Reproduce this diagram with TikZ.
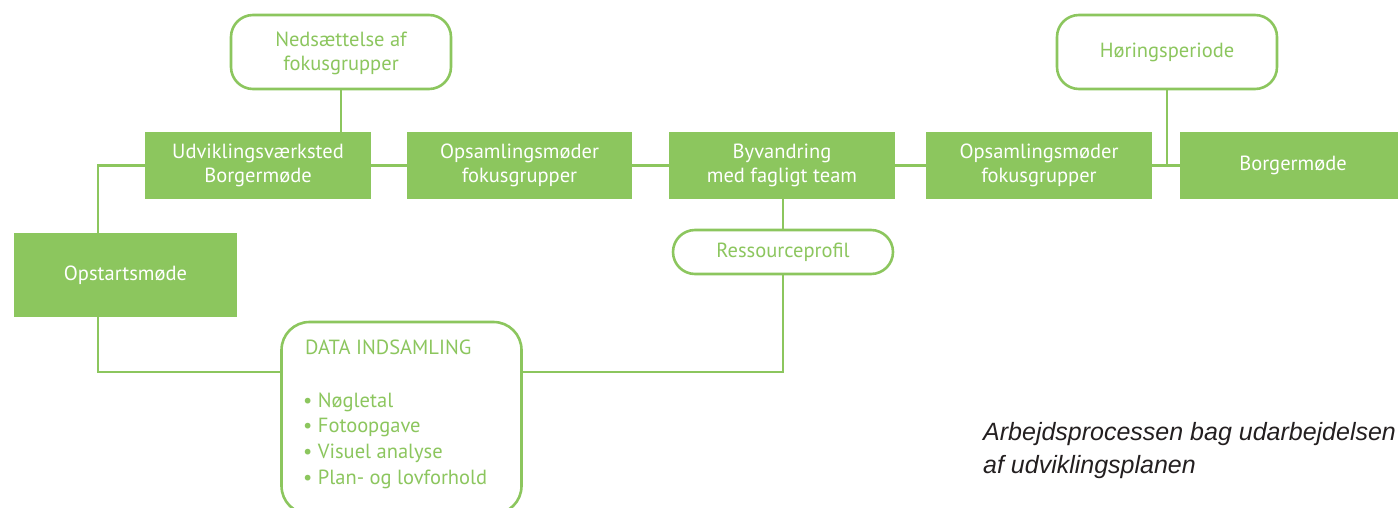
\documentclass[tikz,border=0pt]{standalone}
\usepackage{fontspec}
\setmainfont{PT Sans}
\newfontfamily\capfont{Liberation Sans}
\definecolor{grn}{HTML}{8CC65E}
\definecolor{captxt}{HTML}{231F20}
\begin{document}
\begin{tikzpicture}[x=1pt,y=-1pt,
  fbox/.style={fill=grn, text=white, font=\fontsize{20.5}{23.5}\selectfont, align=center, inner sep=0pt, minimum width=226pt, minimum height=67pt},
  rbox/.style={draw=grn, line width=2.6pt, fill=white, text=grn, font=\fontsize{20.5}{23.5}\selectfont, align=center, rounded corners=22pt, inner sep=0pt, minimum width=220pt},
  conn/.style={draw=grn, line width=2.6pt},
  dtxt/.style={text=grn, font=\fontsize{20.5}{23.5}\selectfont, anchor=base west, inner sep=0pt},
  captext/.style={text=captxt, font=\capfont\itshape\fontsize{25}{29}\selectfont, anchor=base west, inner sep=0pt}]
\useasboundingbox (0,0) rectangle (1398,508);
\coordinate (dl) at (98,372);
\coordinate (dr) at (783,372);
\node[rbox, minimum height=74pt] (ned) at (341,52) {\rule{0pt}{17pt}Nedsættelse af\\fokusgrupper};
\node[rbox, minimum height=74pt] (hor) at (1167,52) {\raisebox{3pt}{Høringsperiode}};
\node[rbox, minimum height=44pt] (res) at (783,252) {\raisebox{-1.5pt}{Ressourceprofil}};
\node[rbox, rounded corners=28pt, minimum width=240pt, minimum height=192pt] (data) at (401.5,418) {};
\node[fbox] (udv) at (258,165.5) {Udviklingsværksted\\Borgermøde};
\node[fbox, minimum width=225pt] (op1) at (519.5,165.5) {Opsamlingsmøder\\fokusgrupper};
\node[fbox] (byv) at (782,165.5) {Byvandring\\med fagligt team};
\node[fbox] (op2) at (1039,165.5) {Opsamlingsmøder\\fokusgrupper};
\node[fbox] (bor) at (1293,165.5) {\raisebox{2pt}{Borgermøde}};
\node[fbox, minimum width=223pt, minimum height=84pt] (opst) at (125.5,275) {Opstartsmøde};
\path[conn] (ned.south) -- (ned.south |- udv.north);
\path[conn] (udv.west) -| (dl |- opst.north);
\path[conn] (udv.east) -- (op1.west);
\path[conn] (op1.east) -- (byv.west);
\path[conn] (byv.east) -- (op2.west);
\path[conn] (op2.east) -- (bor.west);
\path[conn] (hor.south) -- (hor.south |- bor.west);
\path[conn] (byv.south -| res.north) -- (res.north);
\path[conn] (res.south) -- (dr) -- (dr -| data.east);
\path[conn] (dl |- opst.south) -- (dl) -- (dl -| data.west);
\node[dtxt] (dh) at (305,354) {DATA INDSAMLING};
\node[dtxt] (d1) at (303,407) {• Nøgletal};
\node[dtxt] (d2) at (303,432) {• Fotoopgave};
\node[dtxt] (d3) at (303,458) {• Visuel analyse};
\node[dtxt] (d4) at (303,484) {• Plan- og lovforhold};
\node[captext] (c1) at (983,440) {Arbejdsprocessen bag udarbejdelsen};
\node[captext] (c2) at (983,473) {af udviklingsplanen};
\end{tikzpicture}
\end{document}
